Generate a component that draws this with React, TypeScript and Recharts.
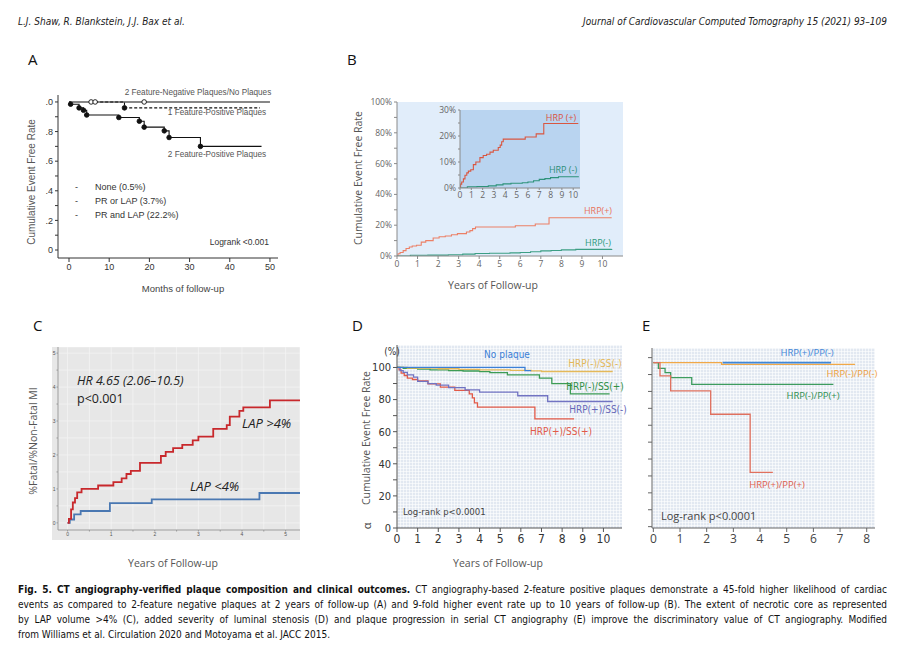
import React from "react";
import { LineChart, Line, XAxis, YAxis, CartesianGrid } from "recharts";

type Pt = [number, number, number?];

// ---------- A: months of follow-up, event free rate ----------
const aNeg: Pt[] = [[0, 1], [5.5, 1, 1], [6.5, 1, 1], [18.7, 1, 1], [50, 1]];
const aOne: Pt[] = [[6.5, 1], [13.8, 0.96, 1], [47.5, 0.96]];
const aTwo: Pt[] = [
  [0, 1], [0.4, 0.985, 1], [2.5, 0.96, 1], [3.6, 0.944, 1], [4.4, 0.912, 1], [12.4, 0.895, 1],
  [17.5, 0.87, 1], [18.7, 0.83, 1], [23.7, 0.805, 1], [24.9, 0.76, 1], [32.7, 0.7, 1], [47.9, 0.7],
];
const aXTicks = [0, 10, 20, 30, 40, 50];
const aYTicks = [0, 0.1, 0.2, 0.3, 0.4, 0.5, 0.6, 0.7, 0.8, 0.9, 1];
const aYLabels = ["0", "", ".2", "", ".4", "", ".6", "", ".8", "", ".0"];
const aLegend = ["None (0.5%)", "PR or LAP (3.7%)", "PR and LAP (22.2%)"];

// ---------- B: years, cumulative event rate (%) ----------
const bPlus: Pt[] = [
  [0, 0], [0.05, 1.5], [0.15, 2.3], [0.3, 3.5], [0.44, 4.9], [0.6, 5.8], [0.74, 6.5], [0.95, 7],
  [1.18, 9], [1.4, 10], [1.76, 11.7], [2.05, 12.5], [2.35, 13], [2.65, 13.8], [2.94, 14.5],
  [3.38, 15.6], [3.55, 16.5], [3.68, 17.8], [3.82, 18.8], [5.76, 19.6], [6.73, 20.8], [7.4, 24.8], [10.45, 24.8],
];
const bMinus: Pt[] = [
  [0, 0], [0.65, 0.5], [1.5, 0.6], [2.5, 0.8], [3.2, 1.2], [3.8, 1.6], [4.5, 1.8], [5.5, 2],
  [6, 2.3], [6.5, 2.8], [7, 3.3], [7.5, 3.6], [8, 4], [8.7, 4.3], [10.45, 4.5],
];
const bXTicks = [0, 1, 2, 3, 4, 5, 6, 7, 8, 9, 10];
const bYTicks = [0, 10, 20, 30, 40, 50, 60, 70, 80, 90, 100];
const bInsetYTicks = [0, 5, 10, 15, 20, 25, 30];

// ---------- C: years, % fatal / non-fatal MI ----------
const cHigh: Pt[] = [
  [0, 0], [0.03, 0.12], [0.08, 0.4], [0.12, 0.6], [0.17, 0.73], [0.22, 0.9], [0.32, 1.0], [0.7, 1.1],
  [1.05, 1.2], [1.24, 1.31], [1.35, 1.44], [1.45, 1.53], [1.66, 1.77], [2.14, 1.97], [2.25, 2.09],
  [2.42, 2.2], [2.63, 2.3], [2.87, 2.43], [3.0, 2.54], [3.34, 2.77], [3.65, 2.88], [3.72, 3.13],
  [3.94, 3.3], [4.03, 3.4], [4.64, 3.61], [5.33, 3.61],
];
const cLow: Pt[] = [[0, 0], [0.05, 0.1], [0.15, 0.25], [0.3, 0.35], [0.97, 0.58], [1.93, 0.69], [4.4, 0.88], [5.33, 0.88]];
const cTicks = [0, 0.5, 1, 1.5, 2, 2.5, 3, 3.5, 4, 4.5, 5];

// ---------- D: years, event free rate (%) ----------
const dNoPlaque: Pt[] = [[0, 100], [6.2, 98], [6.5, 98]];
const dNegNeg: Pt[] = [[0, 100], [0.5, 99.6], [2, 99.2], [3, 98.8], [4, 98.5], [5.5, 98.2], [6.5, 97.9], [7, 97.5], [10.45, 97.5]];
const dNegPos: Pt[] = [
  [0, 100], [0.3, 99.5], [1, 99], [1.6, 98.5], [2.5, 98], [3.2, 97.8], [4, 97.4], [4.5, 96.8],
  [5.35, 95.4], [6.9, 93.4], [7.5, 89.9], [8.4, 83.5], [10.3, 83.5],
];
const dPosNeg: Pt[] = [
  [0, 100], [0.15, 98], [0.3, 97], [0.5, 95.4], [0.8, 94], [1, 91.3], [1.5, 90], [1.9, 89], [2.5, 87.5],
  [3.3, 86], [4, 84.6], [5.85, 82.4], [7.3, 78.8], [10.45, 78.8],
];
const dPosPos: Pt[] = [
  [0, 100], [0.1, 98.5], [0.2, 96.5], [0.35, 95], [0.5, 93.4], [0.75, 92.5], [1, 91.7], [1.5, 89.8],
  [2.1, 87.8], [2.8, 85.7], [3.5, 83.6], [3.65, 81], [3.75, 78], [3.9, 75.3], [6.68, 68], [8.58, 68],
];
const dXTicks = [0, 1, 2, 3, 4, 5, 6, 7, 8, 9, 10];
const dYTicks = [0, 10, 20, 30, 40, 50, 60, 70, 80, 90, 100];

// ---------- E: years, event free rate (%) ----------
const eNegNeg: Pt[] = [[0, 97], [2.56, 96], [7.56, 96]];
const ePosNeg: Pt[] = [[2.6, 97], [6.66, 97]];
const eNegPos: Pt[] = [[0, 97], [0.19, 93.7], [0.44, 91.1], [0.65, 88.2], [1.44, 84.2], [6.75, 84.2]];
const ePosPos: Pt[] = [[0, 97], [0.25, 89.2], [0.65, 80.3], [2.15, 66.5], [3.63, 32.1], [4.48, 32.1]];
const eXTicks = [0, 1, 2, 3, 4, 5, 6, 7, 8];
const eYTicks = [0, 10, 20, 30, 40, 50, 60, 70, 80, 90, 100];

const captionLines = [
  "events as compared to 2-feature negative plaques at 2 years of follow-up (A) and 9-fold higher event rate up to 10 years of follow-up (B). The extent of necrotic core as represented",
  "by LAP volume >4% (C), added severity of luminal stenosis (D) and plaque progression in serial CT angiography (E) improve the discriminatory value of CT angiography. Modified",
];

const ARIAL = "'Liberation Sans', Arial, sans-serif";
const SANS = "'Open Sans', 'Noto Sans', sans-serif";
const NARROW = "'Liberation Sans Narrow', 'DejaVu Sans Condensed', sans-serif";

const rows = (p: Pt[]) => p.map(([t, v, m]) => ({ t, v, m: m || 0 }));

type Rect = { x: number; y: number; w: number; h: number };

function Plot({ r, yW = 30, xH = 20, mt = 4, mr = 4, children }: { r: Rect; yW?: number; xH?: number; mt?: number; mr?: number; children: React.ReactNode }) {
  return (
    <div style={{ position: "absolute", left: r.x - yW, top: r.y - mt }}>
      <LineChart width={r.w + yW + mr} height={r.h + mt + xH} margin={{ top: mt, right: mr, left: 0, bottom: 0 }}>
        {children}
      </LineChart>
    </div>
  );
}

function T({ x, y, a = "start", s = 10, c = "#333", f = SANS, i, b, rot, children }: any) {
  const tx = a === "start" ? "0" : a === "middle" ? "-50%" : "-100%";
  return (
    <div
      style={{
        position: "absolute", left: x, top: y, transform: `translate(${tx},-50%)${rot ? " rotate(-90deg)" : ""}`,
        fontSize: s, color: c, fontFamily: f, fontStyle: i ? "italic" : "normal", fontWeight: b ? 700 : 400,
        whiteSpace: "nowrap", lineHeight: 1, fontStretch: f === NARROW ? "condensed" : "normal",
      }}
    >
      {children}
    </div>
  );
}

const markDot = (open: boolean) => (p: any) =>
  p.payload && p.payload.m ? (
    <circle key={`d${p.index}`} cx={p.cx} cy={p.cy} r={2.3} fill={open ? "#fff" : "#111"} stroke="#111" strokeWidth={0.9} />
  ) : (
    <g key={`d${p.index}`} />
  );

function PanelA() {
  const r = { x: 58, y: 95, w: 220, h: 163 };
  const ax = { stroke: "#333" };
  return (
    <>
      <Plot r={r} yW={30} xH={24}>
        <XAxis dataKey="t" type="number" height={24} domain={[-2.74, 52]} allowDataOverflow ticks={aXTicks} interval={0} tickSize={4} axisLine={ax} tickLine={ax} tick={{ fontSize: 9, fill: "#333", fontFamily: ARIAL }} />
        <YAxis type="number" width={30} domain={[-0.054, 1.047]} allowDataOverflow ticks={aYTicks} interval={0} tickSize={3} axisLine={ax} tickLine={ax}
          tickFormatter={(v: number) => aYLabels[aYTicks.indexOf(v)] ?? ""} tick={{ fontSize: 9, fill: "#333", fontFamily: ARIAL }} />
        <Line data={rows(aNeg)} dataKey="v" type="stepAfter" stroke="#111" strokeWidth={1.1} dot={markDot(true)} isAnimationActive={false} />
        <Line data={rows(aOne)} dataKey="v" type="stepAfter" stroke="#111" strokeWidth={1.1} strokeDasharray="3 2" dot={markDot(false)} isAnimationActive={false} />
        <Line data={rows(aTwo)} dataKey="v" type="stepAfter" stroke="#111" strokeWidth={1.1} dot={markDot(false)} isAnimationActive={false} />
      </Plot>
      <T x={198} y={93} a="middle" s={8.2} c="#555" f={ARIAL}>2 Feature-Negative Plaques/No Plaques</T>
      <T x={217} y={113} a="middle" s={8.2} c="#555" f={ARIAL}>1 Feature-Positive Plaques</T>
      <T x={217} y={155} a="middle" s={8.2} c="#555" f={ARIAL}>2 Feature-Positive Plaques</T>
      {aLegend.map((l, k) => (
        <React.Fragment key={l}>
          <T x={75} y={187 + k * 14} s={9} c="#333" f={ARIAL}>-</T>
          <T x={95} y={187 + k * 14} s={9} c="#333" f={ARIAL}>{l}</T>
        </React.Fragment>
      ))}
      <T x={269} y={242} a="end" s={8.5} c="#333" f={ARIAL}>Logrank &lt;0.001</T>
      <T x={32} y={182} a="middle" rot s={10} c="#555" f={ARIAL}>Cumulative Event Free Rate</T>
      <T x={183} y={289} a="middle" s={9.5} c="#444" f={ARIAL}>Months of follow-up</T>
      <T x={28} y={59} s={15} c="#111" f={SANS}>A</T>
    </>
  );
}

function PanelB() {
  const r = { x: 397, y: 102, w: 226, h: 154 };
  const ri = { x: 460, y: 110, w: 120, h: 78 };
  const ax = { stroke: "#8a8a8a" };
  return (
    <>
      <Plot r={r} yW={40} xH={18} mt={8}>
        <CartesianGrid fill="#e1edfa" horizontal={false} vertical={false} />
        <XAxis dataKey="t" type="number" height={18} domain={[0, 11]} allowDataOverflow ticks={bXTicks} interval={0} tickSize={3} axisLine={ax} tickLine={ax} tick={{ fontSize: 8.5, fill: "#666", fontFamily: SANS }} />
        <YAxis type="number" width={40} domain={[0, 100]} allowDataOverflow ticks={bYTicks} interval={0} tickSize={3} axisLine={ax} tickLine={ax}
          tickFormatter={(v: number) => (v % 20 === 0 ? `${v}%` : "")} tick={{ fontSize: 8.5, fill: "#666", fontFamily: SANS }} />
        <Line data={rows(bPlus)} dataKey="v" type="stepAfter" stroke="#ec8066" strokeWidth={1.1} dot={false} isAnimationActive={false} />
        <Line data={rows(bMinus)} dataKey="v" type="stepAfter" stroke="#3c9e84" strokeWidth={1.1} dot={false} isAnimationActive={false} />
      </Plot>
      <Plot r={ri} yW={28} xH={14} mt={6} mr={2}>
        <CartesianGrid fill="#b9d4f0" horizontal={false} vertical={false} />
        <XAxis dataKey="t" type="number" height={14} domain={[0, 10.6]} allowDataOverflow ticks={bXTicks} interval={0} tickSize={2} axisLine={ax} tickLine={ax} tick={{ fontSize: 8.5, fill: "#666", fontFamily: SANS }} />
        <YAxis type="number" width={28} domain={[0, 30]} allowDataOverflow ticks={bInsetYTicks} interval={0} tickSize={2} axisLine={ax} tickLine={ax}
          tickFormatter={(v: number) => (v % 10 === 0 ? `${v}%` : "")} tick={{ fontSize: 8.5, fill: "#666", fontFamily: SANS }} />
        <Line data={rows(bPlus)} dataKey="v" type="stepAfter" stroke="#d95640" strokeWidth={1.1} dot={false} isAnimationActive={false} />
        <Line data={rows(bMinus)} dataKey="v" type="stepAfter" stroke="#2e927a" strokeWidth={1.1} dot={false} isAnimationActive={false} />
      </Plot>
      <T x={561} y={117} a="middle" s={9} c="#d9533f" f={SANS}>HRP (+)</T>
      <T x={563} y={169} a="middle" s={9} c="#2e8f77" f={SANS}>HRP (-)</T>
      <T x={598} y={210} a="middle" s={9} c="#e8735a" f={SANS}>HRP(+)</T>
      <T x={598} y={242} a="middle" s={9} c="#2e9a7c" f={SANS}>HRP(-)</T>
      <T x={358} y={178} a="middle" rot s={10.5} c="#555" f={SANS}>Cumulative Event Free Rate</T>
      <T x={493} y={285} a="middle" s={10.5} c="#555" f={SANS}>Years of Follow-up</T>
      <T x={347} y={59} s={15} c="#111" f={SANS}>B</T>
    </>
  );
}

function PanelC() {
  const r = { x: 58, y: 347, w: 242, h: 183 };
  const ax = { stroke: "#999" };
  const fmt = (v: number) => (Number.isInteger(v) ? String(v) : "");
  return (
    <>
      <div style={{ position: "absolute", left: 52, top: 347, width: 248, height: 193, background: "#e7e7e7" }} />
      <Plot r={r} yW={6} xH={10} mt={0} mr={0}>
        <CartesianGrid stroke="#f4f4f4" strokeWidth={0.8} />
        <XAxis dataKey="t" type="number" height={10} domain={[-0.22, 5.33]} allowDataOverflow ticks={cTicks} interval={0} tickSize={1.5} tickMargin={1} axisLine={ax} tickLine={ax}
          tickFormatter={fmt} tick={{ fontSize: 5, fill: "#555", fontFamily: ARIAL }} />
        <YAxis type="number" width={6} domain={[-0.21, 5.18]} allowDataOverflow ticks={cTicks} interval={0} tickSize={1.5} tickMargin={1} axisLine={ax} tickLine={ax}
          tickFormatter={fmt} tick={{ fontSize: 5, fill: "#555", fontFamily: ARIAL }} />
        <Line data={rows(cLow)} dataKey="v" type="stepAfter" stroke="#4a78b2" strokeWidth={1.8} dot={false} isAnimationActive={false} />
        <Line data={rows(cHigh)} dataKey="v" type="stepAfter" stroke="#c8282c" strokeWidth={1.8} dot={false} isAnimationActive={false} />
      </Plot>
      <T x={77} y={381} s={12.5} c="#222" f={SANS}><i>HR 4.65</i> <i>(2.06–10.5)</i></T>
      <T x={77} y={399} s={12.5} c="#222" f={SANS}>p&lt;0.001</T>
      <T x={242} y={423} s={13} c="#222" f={SANS} i>LAP &gt;4%</T>
      <T x={190} y={486} s={13} c="#222" f={SANS} i>LAP &lt;4%</T>
      <T x={33} y={441} a="middle" rot s={10.5} c="#555" f={SANS}>%Fatal/%Non-Fatal MI</T>
      <T x={173} y={563} a="middle" s={10.5} c="#555" f={SANS}>Years of Follow-up</T>
      <T x={33} y={325} s={15} c="#111" f={SANS}>C</T>
    </>
  );
}

const dotted = {
  backgroundColor: "#e2e8f1",
  backgroundImage:
    "linear-gradient(rgba(255,255,255,0.6) 1px, transparent 1px), linear-gradient(90deg, rgba(255,255,255,0.6) 1px, transparent 1px)",
  backgroundSize: "3px 3px",
};

function PanelD() {
  const r = { x: 397, y: 345, w: 225, h: 183 };
  const ax = { stroke: "#555" };
  return (
    <>
      <div style={{ position: "absolute", left: r.x, top: r.y, width: r.w, height: r.h, ...dotted }} />
      <Plot r={r} yW={30} xH={22}>
        <XAxis dataKey="t" type="number" height={22} domain={[0, 10.9]} allowDataOverflow ticks={dXTicks} interval={0} tickSize={4} axisLine={ax} tickLine={ax}
          tick={{ fontSize: 12, fill: "#333", fontFamily: NARROW }} />
        <YAxis type="number" width={30} domain={[0, 114]} allowDataOverflow ticks={dYTicks} interval={0} tickSize={4} axisLine={ax} tickLine={ax}
          tickFormatter={(v: number) => (v % 20 === 0 ? String(v) : "")} tick={{ fontSize: 11, fill: "#333", fontFamily: NARROW }} />
        <Line data={rows(dPosPos)} dataKey="v" type="stepAfter" stroke="#e25a48" strokeWidth={1.3} dot={false} isAnimationActive={false} />
        <Line data={rows(dPosNeg)} dataKey="v" type="stepAfter" stroke="#7173c2" strokeWidth={1.3} dot={false} isAnimationActive={false} />
        <Line data={rows(dNegPos)} dataKey="v" type="stepAfter" stroke="#3d9c55" strokeWidth={1.3} dot={false} isAnimationActive={false} />
        <Line data={rows(dNegNeg)} dataKey="v" type="stepAfter" stroke="#e4b85a" strokeWidth={1.3} dot={false} isAnimationActive={false} />
        <Line data={rows(dNoPlaque)} dataKey="v" type="stepAfter" stroke="#3b7fd6" strokeWidth={1.3} dot={false} isAnimationActive={false} />
      </Plot>
      <T x={507} y={355} a="middle" s={10} c="#3b7fd6" f={NARROW}>No plaque</T>
      <T x={595} y={364} a="middle" s={10} c="#e4b85a" f={NARROW}>HRP(-)/SS(-)</T>
      <T x={595} y={387} a="middle" s={10} c="#2f8f45" f={NARROW}>HRP(-)/SS(+)</T>
      <T x={598} y={410} a="middle" s={10} c="#6567b8" f={NARROW}>HRP(+)/SS(-)</T>
      <T x={561} y={432} a="middle" s={10} c="#e25a48" f={NARROW}>HRP(+)/SS(+)</T>
      <T x={403} y={512} s={9.5} c="#444" f={NARROW}>Log-rank p&lt;0.0001</T>
      <T x={392} y={352} a="middle" s={10} c="#333" f={NARROW}>(%)</T>
      <T x={366} y={526} a="middle" rot s={11} c="#444" f={SANS}>α</T>
      <T x={366} y={438} a="middle" rot s={10.5} c="#555" f={SANS}>Cumulative Event Free Rate</T>
      <T x={498} y={563} a="middle" s={10.5} c="#555" f={SANS}>Years of Follow-up</T>
      <T x={352} y={325} s={15} c="#111" f={SANS}>D</T>
    </>
  );
}

function PanelE() {
  const r = { x: 652, y: 348, w: 223, h: 180 };
  const ax = { stroke: "#666" };
  return (
    <>
      <div style={{ position: "absolute", left: r.x, top: r.y, width: r.w, height: r.h, ...dotted }} />
      <Plot r={r} yW={6} xH={22}>
        <XAxis dataKey="t" type="number" height={22} domain={[-0.05, 8.31]} allowDataOverflow ticks={eXTicks} interval={0} tickSize={4} axisLine={ax} tickLine={ax}
          tick={{ fontSize: 12, fill: "#444", fontFamily: SANS }} />
        <YAxis type="number" width={6} domain={[-0.8, 105.7]} allowDataOverflow ticks={eYTicks} interval={0} tickSize={4} axisLine={ax} tickLine={ax}
          tickFormatter={() => ""} tick={{ fontSize: 6 }} />
        <Line data={rows(eNegNeg)} dataKey="v" type="stepAfter" stroke="#f0a848" strokeWidth={1.3} dot={false} isAnimationActive={false} />
        <Line data={rows(ePosNeg)} dataKey="v" type="stepAfter" stroke="#3f86d8" strokeWidth={1.8} dot={false} isAnimationActive={false} />
        <Line data={rows(eNegPos)} dataKey="v" type="stepAfter" stroke="#3d9c5e" strokeWidth={1.3} dot={false} isAnimationActive={false} />
        <Line data={rows(ePosPos)} dataKey="v" type="stepAfter" stroke="#e0705e" strokeWidth={1.3} dot={false} isAnimationActive={false} />
      </Plot>
      <T x={807} y={353} a="middle" s={9.5} c="#3f86d8" f={SANS}>HRP(+)/PP(-)</T>
      <T x={852} y={374} a="middle" s={9.5} c="#f0a040" f={SANS}>HRP(-)/PP(-)</T>
      <T x={813} y={396} a="middle" s={9.5} c="#2f8f4f" f={SANS}>HRP(-)/PP(+)</T>
      <T x={777} y={485} a="middle" s={9.5} c="#e0604e" f={SANS}>HRP(+)/PP(+)</T>
      <T x={661} y={515} s={11} c="#444" f={SANS}>Log-rank p&lt;0.0001</T>
      <T x={642} y={325} s={15} c="#111" f={SANS}>E</T>
    </>
  );
}

const capStyle: React.CSSProperties = {
  position: "absolute", left: 18, width: 869, fontSize: 10, lineHeight: "15px", fontFamily: NARROW,
  fontStretch: "condensed", color: "#111", textAlign: "justify", textAlignLast: "justify", whiteSpace: "nowrap",
};

export default function App() {
  return (
    <div style={{ position: "absolute", left: 0, top: 0, width: 903, height: 652, background: "#fff", overflow: "hidden" }}>
      <T x={18} y={22} s={10} c="#222" f={NARROW} i>L.J. Shaw, R. Blankstein, J.J. Bax et al.</T>
      <T x={887} y={22} a="end" s={10} c="#222" f={NARROW} i>Journal of Cardiovascular Computed Tomography 15 (2021) 93–109</T>
      <PanelA />
      <PanelB />
      <PanelC />
      <PanelD />
      <PanelE />
      <div style={{ ...capStyle, top: 582 }}>
        <b>Fig. 5. CT angiography-verified plaque composition and clinical outcomes.</b> CT angiography-based 2-feature positive plaques demonstrate a 45-fold higher likelihood of cardiac
      </div>
      {captionLines.map((l, k) => (
        <div key={k} style={{ ...capStyle, top: 597 + k * 15 }}>{l}</div>
      ))}
      <div style={{ ...capStyle, top: 627, textAlignLast: "left" }}>from Williams et al. Circulation 2020 and Motoyama et al. JACC 2015.</div>
    </div>
  );
}
